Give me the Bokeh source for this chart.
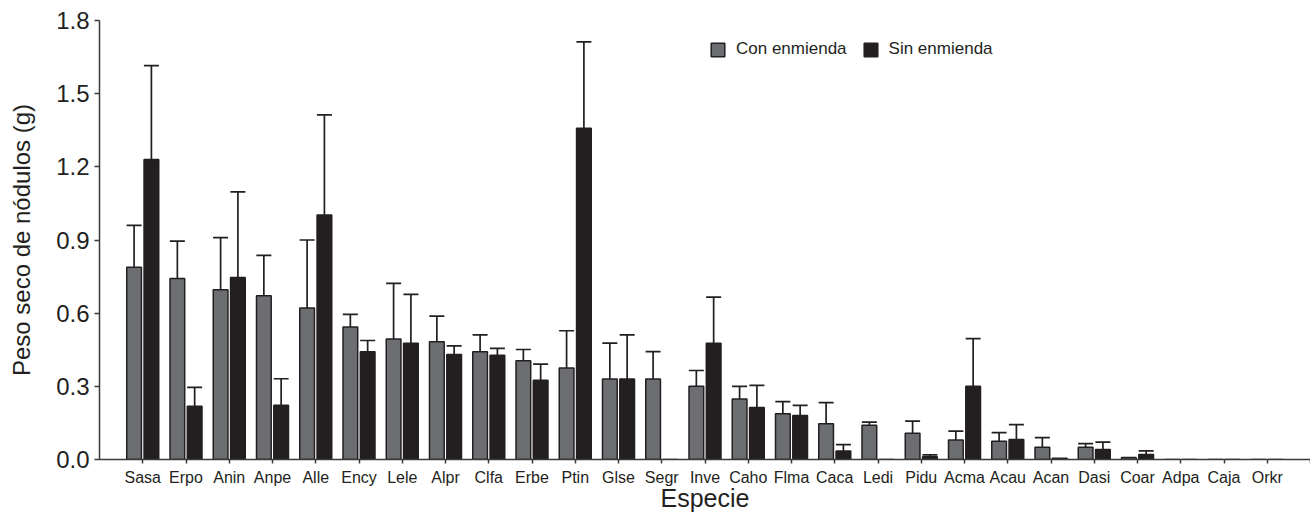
from bokeh.plotting import figure
from bokeh.models import (Range1d, FixedTicker, PrintfTickFormatter, ColumnDataSource,
                          Whisker, TeeHead, Legend, LegendItem)
from bokeh.embed import file_html
from bokeh.resources import INLINE

especies = ["Sasa", "Erpo", "Anin", "Anpe", "Alle", "Ency", "Lele", "Alpr", "Clfa", "Erbe",
            "Ptin", "Glse", "Segr", "Inve", "Caho", "Flma", "Caca", "Ledi", "Pidu", "Acma",
            "Acau", "Acan", "Dasi", "Coar", "Adpa", "Caja", "Orkr"]
con_enmienda = [0.788, 0.742, 0.696, 0.671, 0.621, 0.543, 0.494, 0.483, 0.442, 0.405,
                0.375, 0.330, 0.330, 0.300, 0.248, 0.188, 0.147, 0.140, 0.108, 0.080,
                0.075, 0.050, 0.050, 0.008, 0.0, 0.0, 0.0]
con_error = [0.172, 0.153, 0.214, 0.166, 0.279, 0.052, 0.228, 0.105, 0.069, 0.046,
             0.153, 0.147, 0.112, 0.065, 0.052, 0.049, 0.086, 0.013, 0.049, 0.036,
             0.035, 0.040, 0.015, 0.0, 0.0, 0.0, 0.0]
sin_enmienda = [1.230, 0.218, 0.746, 0.222, 1.002, 0.442, 0.477, 0.431, 0.427, 0.325,
                1.358, 0.330, 0.0, 0.477, 0.213, 0.180, 0.035, 0.0, 0.011, 0.300,
                0.082, 0.005, 0.041, 0.020, 0.0, 0.0, 0.0]
sin_error = [0.385, 0.078, 0.351, 0.109, 0.411, 0.046, 0.200, 0.035, 0.029, 0.066,
             0.354, 0.181, 0.0, 0.189, 0.091, 0.042, 0.026, 0.0, 0.008, 0.196,
             0.061, 0.0, 0.030, 0.015, 0.0, 0.0, 0.0]
y_ticks = [0.0, 0.3, 0.6, 0.9, 1.2, 1.5, 1.8]

GRAY = "#6d6e71"
DARK = "#231f20"
FONT = "Liberation Sans"
OFF = 0.2
W = 0.34

idx = list(range(len(especies)))

p = figure(width=1310, height=514, output_backend="svg", toolbar_location=None,
           x_range=Range1d(-1, 27), y_range=Range1d(0, 1.8),
           min_border_left=99, min_border_right=0, min_border_top=20, min_border_bottom=54)
p.outline_line_color = None
p.xgrid.visible = False
p.ygrid.visible = False
p.background_fill_color = "white"
p.border_fill_color = "white"

src_con = ColumnDataSource(dict(x=[i - OFF for i in idx], top=con_enmienda))
src_sin = ColumnDataSource(dict(x=[i + OFF for i in idx], top=sin_enmienda))

r_con = p.vbar(x="x", top="top", width=W, source=src_con, fill_color=GRAY,
               line_color=DARK, line_width=1.5)
r_sin = p.vbar(x="x", top="top", width=W, source=src_sin, fill_color=DARK,
               line_color=DARK, line_width=1.5)

def add_err(vals, errs, off):
    xs, lo, hi = [], [], []
    for i, v, e in zip(idx, vals, errs):
        if e > 0:
            xs.append(i + off)
            lo.append(v)
            hi.append(v + e)
    s = ColumnDataSource(dict(x=xs, lower=lo, upper=hi))
    wk = Whisker(base="x", lower="lower", upper="upper", source=s, dimension="height",
                 line_color=DARK, line_width=1.7,
                 upper_head=TeeHead(size=15, line_color=DARK, line_width=1.7),
                 lower_head=None)
    p.add_layout(wk)

add_err(con_enmienda, con_error, -OFF)
add_err(sin_enmienda, sin_error, OFF)

# axes
p.xaxis.ticker = FixedTicker(ticks=idx + [27])
overrides = {i: n for i, n in zip(idx, especies)}
overrides[27] = ""
p.xaxis.major_label_overrides = overrides
p.xaxis.major_label_text_font = FONT
p.xaxis.major_label_text_font_size = "16px"
p.xaxis.major_label_text_color = DARK
p.xaxis.major_label_standoff = 5
p.xaxis.major_tick_out = 4
p.xaxis.major_tick_in = 0
p.xaxis.minor_tick_line_color = None
p.xaxis.axis_label = "Especie"
p.xaxis.axis_label_text_font = FONT
p.xaxis.axis_label_text_font_style = "normal"
p.xaxis.axis_label_text_font_size = "25px"
p.xaxis.axis_label_text_color = DARK
p.xaxis.axis_label_standoff = -5

p.yaxis.ticker = FixedTicker(ticks=y_ticks)
p.yaxis.formatter = PrintfTickFormatter(format="%.1f")
p.yaxis.major_label_text_font = FONT
p.yaxis.major_label_text_font_size = "24px"
p.yaxis.major_label_text_color = DARK
p.yaxis.major_label_standoff = 5
p.yaxis.major_tick_out = 5
p.yaxis.major_tick_in = 0
p.yaxis.minor_tick_line_color = None
p.yaxis.axis_label = "Peso seco de nódulos (g)"
p.yaxis.axis_label_text_font = FONT
p.yaxis.axis_label_text_font_style = "normal"
p.yaxis.axis_label_text_font_size = "24px"
p.yaxis.axis_label_text_color = DARK
p.yaxis.axis_label_standoff = 18

for ax in (p.xaxis, p.yaxis):
    ax.axis_line_color = "#3a3a3a"
    ax.axis_line_width = 1.5
    ax.major_tick_line_color = "#3a3a3a"
    ax.major_tick_line_width = 1.5

legend = Legend(items=[LegendItem(label="Con enmienda", renderers=[r_con]),
                       LegendItem(label="Sin enmienda", renderers=[r_sin])],
                orientation="horizontal", location=(610, 400),
                padding=0, margin=0, spacing=15, label_standoff=10,
                glyph_width=17, glyph_height=17, label_height=17,
                label_text_font=FONT, label_text_font_size="17px", label_text_color=DARK,
                border_line_color=None, background_fill_alpha=0)
p.add_layout(legend)

open("out.html", "w").write(file_html(p, INLINE))
